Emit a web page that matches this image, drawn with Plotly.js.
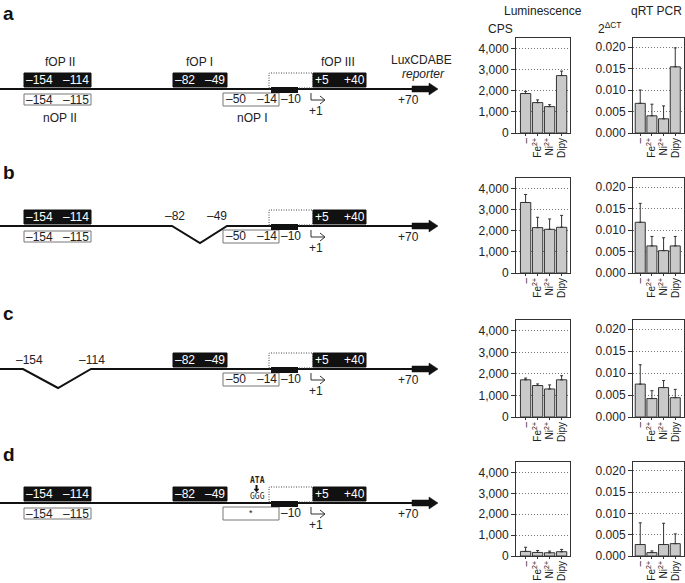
<!DOCTYPE html>
<html><head><meta charset="utf-8">
<script src="https://cdn.plot.ly/plotly-3.0.1.min.js"></script>
<style>html,body{margin:0;padding:0;background:#fff;}#chart{width:685px;height:583px;}</style>
</head><body><div id="chart"></div>
<script>
// ---- data ----
const conditions = ['\u2013', 'Fe<sup>2+</sup>', 'Ni<sup>2+</sup>', 'Dipy'];
const panels = ['a', 'b', 'c', 'd'];
const lumA = [1870, 1440, 1250, 2720];
const lumAErr = [100, 130, 90, 210];
const lumB = [3340, 2150, 2070, 2165];
const lumBErr = [380, 490, 490, 565];
const lumC = [1725, 1460, 1300, 1725];
const lumCErr = [80, 75, 190, 190];
const lumD = [220, 170, 155, 205];
const lumDErr = [200, 95, 80, 110];
const qpcrA = [0.0069, 0.0040, 0.0033, 0.0154];
const qpcrAErr = [0.0031, 0.0027, 0.0030, 0.0044];
const qpcrB = [0.0118, 0.0063, 0.0052, 0.0063];
const qpcrBErr = [0.0044, 0.0022, 0.0030, 0.0022];
const qpcrC = [0.0075, 0.0042, 0.0067, 0.0044];
const qpcrCErr = [0.0044, 0.0018, 0.0016, 0.0019];
const qpcrD = [0.0027, 0.0008, 0.0027, 0.0029];
const qpcrDErr = [0.0051, 0.0004, 0.0050, 0.0023];
const lumTicks = [0, 1000, 2000, 3000, 4000];
const qpcrTicks = [0, 0.005, 0.010, 0.015, 0.020];

const lumSets = [[lumA, lumAErr], [lumB, lumBErr], [lumC, lumCErr], [lumD, lumDErr]];
const qSets = [[qpcrA, qpcrAErr], [qpcrB, qpcrBErr], [qpcrC, qpcrCErr], [qpcrD, qpcrDErr]];

// ---- layout helpers ----
const W = 685, H = 583;
const X = x => x / W;
const Y = y => 1 - y / H;
const FONT = 'Liberation Sans, Arial, sans-serif';

const rowBox = [[38, 133], [178, 273], [320, 417], [462, 556]];
const lumX = [516, 570];
const qX = [633, 684];

const traces = [];
const layout = {
  width: W, height: H,
  margin: {l: 0, r: 0, t: 0, b: 0},
  paper_bgcolor: '#fff', plot_bgcolor: 'rgba(0,0,0,0)',
  showlegend: false,
  font: {family: FONT, size: 12, color: '#222'},
  shapes: [], annotations: []
};

function axisPair(idx, xdom, ydom, yrange, ticks, fmt, xrange) {
  const xs = idx === 1 ? 'xaxis' : 'xaxis' + idx;
  const ys = idx === 1 ? 'yaxis' : 'yaxis' + idx;
  layout[xs] = {
    domain: xdom, anchor: 'y' + (idx === 1 ? '' : idx), range: xrange,
    tickvals: [0, 1, 2, 3], ticktext: conditions, tickangle: -90,
    ticks: 'outside', ticklen: 2, tickcolor: '#333', ticklabelstandoff: -2,
    showline: true, mirror: true, linecolor: '#333', linewidth: 1,
    showgrid: false, zeroline: false, fixedrange: true,
    tickfont: {family: FONT, size: 10, color: '#222'}
  };
  layout[ys] = {
    domain: ydom, anchor: 'x' + (idx === 1 ? '' : idx), range: yrange,
    tickvals: ticks, tickformat: fmt,
    ticks: 'outside', ticklen: 4, tickcolor: '#333',
    showline: true, mirror: true, linecolor: '#333', linewidth: 1,
    showgrid: true, gridcolor: '#777', griddash: '1px,2px', gridwidth: 1,
    zeroline: false, fixedrange: true,
    tickfont: {family: FONT, size: 12, color: '#222'}
  };
}

function barTrace(idx, vals, errs) {
  return {
    type: 'bar', x: [0, 1, 2, 3], y: vals,
    xaxis: 'x' + (idx === 1 ? '' : idx), yaxis: 'y' + (idx === 1 ? '' : idx),
    marker: {color: '#c9c9c9', line: {color: '#333', width: 1}},
    width: 0.86,
    error_y: {type: 'data', symmetric: false, array: errs, arrayminus: errs.map(() => 0),
      color: '#333', thickness: 1, width: 1.5},
    hoverinfo: 'skip'
  };
}

for (let i = 0; i < 4; i++) {
  const [top, bot] = rowBox[i];
  const ydom = [Y(bot), Y(top)];
  const li = 2 * i + 1, qi = 2 * i + 2;
  axisPair(li, [X(lumX[0]), X(lumX[1])], ydom, [0, 4500], lumTicks, ',', [-0.8, 3.7]);
  axisPair(qi, [X(qX[0]), X(qX[1])], ydom, [0, 0.0221], qpcrTicks, '.3f', [-0.62, 3.75]);
  traces.push(barTrace(li, lumSets[i][0], lumSets[i][1]));
  traces.push(barTrace(qi, qSets[i][0], qSets[i][1]));
}

// ---- annotations / schematic ----
function txt(x, y, s, o) {
  o = o || {};
  layout.annotations.push({
    xref: 'paper', yref: 'paper', x: X(x), y: Y(y), text: s, showarrow: false,
    xanchor: o.xa || 'center', yanchor: 'middle',
    font: {family: o.family || FONT, size: o.size || 12, color: o.color || '#222'}
  });
}
function rect(x0, y0, x1, y1, fill, lc, dash, lw) {
  layout.shapes.push({
    type: 'rect', xref: 'paper', yref: 'paper', x0: X(x0), x1: X(x1), y0: Y(y1), y1: Y(y0),
    fillcolor: fill, line: {color: lc, width: lw === undefined ? 1 : lw, dash: dash || 'solid'}, layer: 'above'
  });
}
function path(pts, lw, color, fill, closed) {
  let d = pts.map((p, k) => (k ? 'L' : 'M') + X(p[0]).toFixed(5) + ',' + Y(p[1]).toFixed(5)).join(' ');
  if (closed) d += ' Z';
  layout.shapes.push({
    type: 'path', xref: 'paper', yref: 'paper', path: d,
    line: {color: color || '#111', width: lw}, fillcolor: fill || 'rgba(0,0,0,0)', layer: 'above'
  });
}

// headers
txt(543, 11, 'Luminescence', {size: 12});
txt(656, 11, 'qRT PCR', {size: 12});
txt(500, 29, 'CPS', {size: 12});
txt(609, 28, '2<sup>\u0394CT</sup>', {size: 12});

// panel letters
const letterY = [13, 173, 313, 455];
panels.forEach((p, i) => {
  layout.annotations.push({xref: 'paper', yref: 'paper', x: X(1), y: Y(letterY[i]), text: '<b>' + p + '</b>',
    showarrow: false, xanchor: 'left', yanchor: 'middle', font: {family: FONT, size: 19, color: '#111'}});
});

const lineY = [89, 226, 369, 503];

function common(L) {
  // dotted box + fOP III
  rect(269, L - 16, 313, L - 1, 'rgba(0,0,0,0)', '#444', '1px,1.5px', 1);
  rect(313, L - 16, 366, L - 2, '#111', '#111');
  txt(322, L - 9, '+5', {color: '#fff'});
  txt(354, L - 9, '+40', {color: '#fff'});
  // promoter bar
  rect(271, L - 2, 298, L + 4, '#111', '#111', null, 0);
  // -10 label
  txt(291, L + 10, '\u201310');
  // TSS
  path([[311, L + 4], [311, L + 11], [325, L + 11]], 1, '#333');
  path([[320, L + 7], [325, L + 11], [320, L + 15]], 1, '#333');
  txt(316, L + 22, '+1');
  // reporter arrow
  path([[412, L - 3], [429, L - 3], [429, L - 6], [438, L], [429, L + 6], [429, L + 3], [412, L + 3]], 0.5, '#111', '#111', true);
  txt(408, L + 11, '+70');
}
function fOPII(L) {
  rect(24, L - 16, 91, L - 2, '#111', '#111');
  txt(39, L - 9, '\u2013154', {color: '#fff'});
  txt(76, L - 9, '\u2013114', {color: '#fff'});
}
function nOPII(L) {
  rect(24, L + 5, 91, L + 16, '#fff', '#777');
  txt(39, L + 10.5, '\u2013154');
  txt(76, L + 10.5, '\u2013115');
}
function fOPI(L) {
  rect(173, L - 16, 227, L - 2, '#111', '#111');
  txt(185, L - 9, '\u201382', {color: '#fff'});
  txt(215, L - 9, '\u201349', {color: '#fff'});
}
function nOPI(L, star) {
  rect(223, L + 4, 279, L + 17, '#fff', '#777');
  if (star) {
    txt(251, L + 10, '*', {size: 9});
  } else {
    txt(236, L + 10, '\u201350');
    txt(267, L + 10, '\u201314');
  }
}

// panel a
let L = lineY[0];
path([[0, L], [413, L]], 2, '#111');
fOPII(L); nOPII(L); fOPI(L); nOPI(L, false); common(L);
txt(60, 62, 'fOP II'); txt(200, 62, 'fOP I'); txt(338, 62, 'fOP III');
txt(60, 118, 'nOP II'); txt(252, 118, 'nOP I');
txt(421, 60, 'LuxCDABE'); txt(423, 74, '<i>reporter</i>');

// panel b
L = lineY[1];
path([[0, L], [172, L], [200, L + 17], [227, L], [413, L]], 2, '#111');
fOPII(L); nOPII(L); nOPI(L, false); common(L);
txt(175, L - 10, '\u201382'); txt(217, L - 10, '\u201349');

// panel c
L = lineY[2];
path([[0, L], [23, L], [58, L + 19], [91, L], [413, L]], 2, '#111');
fOPI(L); nOPI(L, false); common(L);
txt(29, L - 9, '\u2013154'); txt(92, L - 9, '\u2013114');

// panel d
L = lineY[3];
path([[0, L], [413, L]], 2, '#111');
fOPII(L); nOPII(L); fOPI(L); nOPI(L, true); common(L);
txt(257, L - 22, '<b>ATA</b>', {family: 'DejaVu Sans Mono, monospace', size: 8});
txt(257, L - 7, 'GGG', {family: 'DejaVu Sans Mono, monospace', size: 8});
path([[256.5, L - 18], [256.5, L - 14]], 2, '#111');
path([[254, L - 14], [259, L - 14], [256.5, L - 11]], 0.5, '#111', '#111', true);

Plotly.newPlot('chart', traces, layout, {staticPlot: true, displayModeBar: false});
</script></body></html>
